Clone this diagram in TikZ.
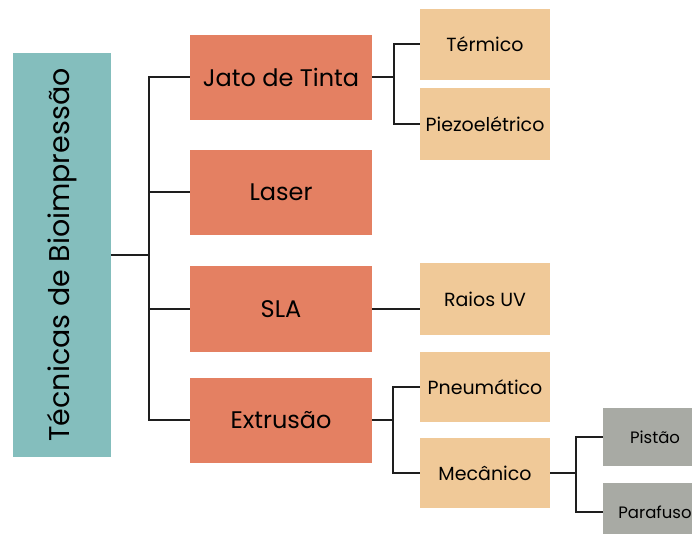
\documentclass[tikz,border=0pt]{standalone}
\usepackage{fontspec}
\setmainfont{Poppins}
\definecolor{teal}{RGB}{132,190,189}
\definecolor{orng}{RGB}{228,128,98}
\definecolor{beige}{RGB}{240,201,152}
\definecolor{grayb}{RGB}{168,170,164}
\definecolor{ln}{RGB}{30,30,30}
\tikzset{
  box/.style={rectangle, inner sep=0pt, text=black},
  rootbox/.style={box, fill=teal, minimum width=98pt, minimum height=404pt, font=\fontsize{28.5}{33}\selectfont},
  mainbox/.style={box, fill=orng, minimum width=182pt, minimum height=85pt, font=\fontsize{24}{28}\selectfont},
  subbox/.style={box, fill=beige, minimum width=130pt, minimum height=71pt, font=\fontsize{19}{22}\selectfont},
  leafbox/.style={box, fill=grayb, minimum width=104pt, minimum height=58pt, font=\fontsize{16.5}{19}\selectfont},
  conn/.style={draw=ln, line width=1.4pt}
}
\begin{document}
\begin{tikzpicture}[x=1pt,y=-1pt]
\useasboundingbox (0,0) rectangle (692,533);
\clip (0,0) rectangle (692,533);
\fill[white] (0,0) rectangle (692,533);

\node[rootbox] (root) at (62,255) {\rotatebox{90}{Técnicas de Bioimpressão}};

\node[mainbox] (jato) at (281,77) {Jato de Tinta};
\node[mainbox] (laser) at (281,192) {Laser};
\node[mainbox, minimum height=86pt] (sla) at (281,309) {SLA};
\node[mainbox] (ext) at (281,420) {Extrusão};

\node[subbox] (term) at (485,44) {Térmico};
\node[subbox, minimum height=72pt] (piezo) at (485,124) {Piezoelétrico};
\node[subbox, minimum height=72pt] (raios) at (485,299) {Raios UV};
\node[subbox, minimum height=70pt] (pneu) at (485,387) {Pneumático};
\node[subbox, minimum height=70pt] (mec) at (485,473) {Mecânico};

\node[leafbox] (pist) at (655,437) {Pistão};
\node[leafbox] (para) at (655,512) {Parafuso};

\coordinate (tx) at (149,0);
\coordinate (jx) at (394,0);
\coordinate (ex) at (393,0);
\coordinate (mx) at (576,0);

\draw[conn] (root.east) -- (root.east -| tx);
\draw[conn] (jato.west) -- (jato.west -| tx) -- (ext.west -| tx) -- (ext.west);
\draw[conn] (laser.west) -- (laser.west -| tx);
\draw[conn] (sla.west) -- (sla.west -| tx);

\draw[conn] (jato.east) -- (jato.east -| jx);
\draw[conn] (term.west) -- (term.west -| jx) -- (piezo.west -| jx) -- (piezo.west);

\draw[conn] (sla.east) -- (sla.east -| raios.west);

\draw[conn] (ext.east) -- (ext.east -| ex);
\draw[conn] (pneu.west) -- (pneu.west -| ex) -- (mec.west -| ex) -- (mec.west);

\draw[conn] (mec.east) -- (mec.east -| mx);
\draw[conn] (pist.west) -- (pist.west -| mx) -- (para.west -| mx) -- (para.west);
\end{tikzpicture}
\end{document}
